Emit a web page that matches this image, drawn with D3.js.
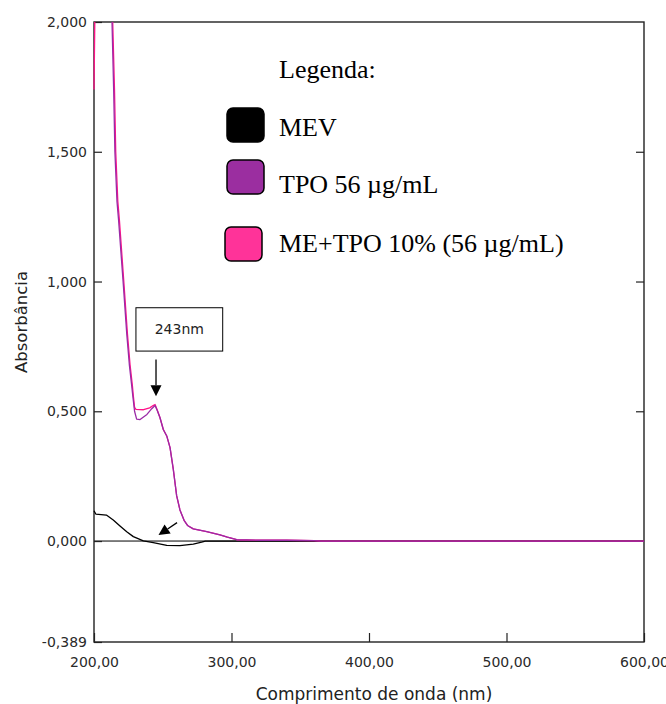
<!DOCTYPE html>
<html>
<head>
<meta charset="utf-8">
<script src="https://cdn.jsdelivr.net/npm/d3@7"></script>
<style>
  body { margin: 0; background: #fff; }
  svg { display: block; }
</style>
</head>
<body>
<svg id="chart" width="666" height="704"></svg>
<script>
// MEV (blank microemulsion)
const mevWl  = [200, 201.3, 209, 214, 218.9, 223.8, 228.6, 235.9, 243.1, 252.9, 262.5, 272.2, 278.3, 281, 600];
const mevAbs = [0.117, 0.104, 0.100, 0.081, 0.058, 0.036, 0.017, 0.001, -0.006, -0.017, -0.018, -0.012, -0.004, 0.000, 0.000];

// ME+TPO 10% (56 ug/mL)
const meWl  = [200, 200.8, 212.8, 213.6, 214.9, 215.8, 217.3, 218.5, 221.8, 224.3, 226.2, 227.9, 228.6, 229.5, 230.5, 236, 240.5, 243, 244.4, 246, 248, 250.4, 252.9, 255.3, 257.7, 260.1, 262.5, 265.5, 268, 272.2, 282, 291.6, 297, 303.8, 320, 340, 360, 365, 600];
const meAbs = [1.74, 2.10, 2.10, 2.00, 1.74, 1.50, 1.31, 1.235, 0.99, 0.80, 0.68, 0.60, 0.56, 0.515, 0.507, 0.506, 0.513, 0.522, 0.526, 0.505, 0.475, 0.430, 0.405, 0.360, 0.275, 0.175, 0.120, 0.080, 0.060, 0.047, 0.036, 0.024, 0.015, 0.005, 0.003, 0.003, 0.002, 0.000, 0.000];

// TPO 56 ug/mL
const tpoWl  = [212.0, 213.1, 214.3, 215.2, 216.7, 217.9, 221.3, 223.8, 225.7, 227.4, 228.2, 229.5, 231, 233.5, 238.5, 242, 244.4, 246, 248, 250.4, 252.9, 255.3, 257.7, 260.1, 262.5, 265.5, 268, 272.2, 282, 291.6, 297, 303.8, 320, 340, 360, 365, 600];
const tpoAbs = [2.20, 2.00, 1.74, 1.50, 1.31, 1.235, 0.99, 0.80, 0.68, 0.60, 0.56, 0.500, 0.470, 0.468, 0.488, 0.510, 0.522, 0.503, 0.475, 0.430, 0.405, 0.360, 0.275, 0.175, 0.120, 0.080, 0.060, 0.047, 0.036, 0.024, 0.015, 0.005, 0.003, 0.003, 0.002, 0.000, 0.000];

const xTicks = [200, 300, 400, 500, 600];
const yTicks = [2, 1.5, 1, 0.5, 0, -0.389];

const legendNames  = ["MEV", "TPO 56 \u00b5g/mL", "ME+TPO 10% (56 \u00b5g/mL)"];
const legendFills  = ["#000000", "#9b2ea0", "#ff3399"];
const lineColors   = {mev: "#000000", tpo: "#9a2aa6", me: "#ff1289"};

const svg = d3.select("#chart");
const mLeft = 94, mRight = 644, mTop = 22, mBottom = 642;

const x = d3.scaleLinear().domain([200, 600]).range([mLeft, mRight]);
const y = d3.scaleLinear().domain([-0.389, 2]).range([mBottom, mTop]);

const fmtY = d => d3.format(".3f")(d).replace(".", ",").replace("\u2212", "-");
const fmtX = d => d3.format(".2f")(d).replace(".", ",");

// clip for data lines
svg.append("defs").append("clipPath").attr("id", "plotclip")
  .append("rect").attr("x", mLeft - 1).attr("y", mTop).attr("width", mRight - mLeft + 1).attr("height", mBottom - mTop);

// zero line
svg.append("line")
  .attr("x1", mLeft).attr("x2", mRight)
  .attr("y1", y(0)).attr("y2", y(0))
  .attr("stroke", "#000").attr("stroke-width", 1);

// axes
const yAxis = d3.axisLeft(y).tickValues(yTicks).tickFormat(fmtY).tickSizeInner(-8).tickSizeOuter(0).tickPadding(7);
const yAxisR = d3.axisRight(y).tickValues([1.5, 1, 0.5]).tickFormat("").tickSizeInner(-8).tickSizeOuter(0);
const xAxis = d3.axisBottom(x).tickValues(xTicks).tickFormat(fmtX).tickSizeInner(-9).tickSizeOuter(0).tickPadding(15);

function styleAxis(g) {
  g.select(".domain").remove();
  g.selectAll(".tick line").attr("stroke", "#222").attr("stroke-width", 1.2);
  g.selectAll(".tick text")
    .attr("fill", "#2a2a2a")
    .style("font-family", "'DejaVu Sans', Verdana, sans-serif")
    .style("font-size", "14px");
}

svg.append("g").attr("transform", `translate(${mLeft},0)`).call(yAxis).call(styleAxis);
svg.append("g").attr("transform", `translate(${mRight},0)`).call(yAxisR).call(styleAxis);
svg.append("g").attr("transform", `translate(0,${mBottom})`).call(xAxis).call(styleAxis);

// frame
svg.append("rect")
  .attr("x", mLeft).attr("y", mTop)
  .attr("width", mRight - mLeft).attr("height", mBottom - mTop)
  .attr("fill", "none").attr("stroke", "#222").attr("stroke-width", 1.4);

// series
const line = d3.line().x(d => x(d[0])).y(d => y(d[1]));
const series = [
  {key: "mev", wl: mevWl, abs: mevAbs},
  {key: "me",  wl: meWl,  abs: meAbs},
  {key: "tpo", wl: tpoWl, abs: tpoAbs}
];
const plot = svg.append("g").attr("clip-path", "url(#plotclip)");
series.forEach(s => {
  plot.append("path")
    .datum(s.wl.map((w, i) => [w, s.abs[i]]))
    .attr("d", line)
    .attr("fill", "none")
    .attr("stroke", lineColors[s.key])
    .attr("stroke-width", 1.3)
    .attr("stroke-linejoin", "round");
});

// axis titles
svg.append("text")
  .attr("x", (mLeft + mRight) / 2 + 5).attr("y", 700)
  .attr("text-anchor", "middle")
  .style("font-family", "'DejaVu Sans', sans-serif").style("font-size", "17px")
  .attr("fill", "#222")
  .text("Comprimento de onda (nm)");

svg.append("text")
  .attr("transform", "translate(27,322) rotate(-90)")
  .attr("text-anchor", "middle")
  .style("font-family", "'DejaVu Sans', sans-serif").style("font-size", "16.5px")
  .attr("fill", "#222")
  .text("Absorb\u00e2ncia");

// annotation: 243nm box + arrows
const boxX0 = x(230.5), boxX1 = x(293.6), boxY0 = y(0.899), boxY1 = y(0.732);
svg.append("rect")
  .attr("x", boxX0).attr("y", boxY0)
  .attr("width", boxX1 - boxX0).attr("height", boxY1 - boxY0)
  .attr("fill", "#fff").attr("stroke", "#000").attr("stroke-width", 1);
svg.append("text")
  .attr("x", (boxX0 + boxX1) / 2).attr("y", (boxY0 + boxY1) / 2 + 5)
  .attr("text-anchor", "middle")
  .style("font-family", "'DejaVu Sans', sans-serif").style("font-size", "14px")
  .attr("fill", "#222")
  .text("243nm");

function arrow(x0, y0, x1, y1) {
  const dx = x1 - x0, dy = y1 - y0, len = Math.hypot(dx, dy);
  const ux = dx / len, uy = dy / len, hl = 11, hw = 5.5;
  const bx = x1 - ux * hl, by = y1 - uy * hl;
  svg.append("line").attr("x1", x0).attr("y1", y0).attr("x2", bx).attr("y2", by)
    .attr("stroke", "#000").attr("stroke-width", 1.3);
  svg.append("path")
    .attr("d", `M${x1},${y1}L${bx - uy * hw},${by + ux * hw}L${bx + uy * hw},${by - ux * hw}Z`)
    .attr("fill", "#000");
}
arrow(x(245.1), y(0.70), x(245.1), y(0.558));
arrow(x(260.4), y(0.071), x(246.9), y(0.023));

// legend
svg.append("text")
  .attr("x", 279).attr("y", 78)
  .style("font-family", "'Liberation Serif', 'Times New Roman', serif").style("font-size", "26px")
  .attr("fill", "#000")
  .text("Legenda:");

const swatchY = [108, 160, 227];
const swatchX = [227, 227, 225];
const textY = [136, 193, 252];
legendNames.forEach((name, i) => {
  svg.append("rect")
    .attr("x", swatchX[i]).attr("y", swatchY[i])
    .attr("width", 37).attr("height", 34).attr("rx", 6)
    .attr("fill", legendFills[i]).attr("stroke", "#000").attr("stroke-width", 1.5);
  svg.append("text")
    .attr("x", 279).attr("y", textY[i])
    .style("font-family", "'Liberation Serif', 'Times New Roman', serif").style("font-size", "26px")
    .attr("fill", "#000")
    .text(name);
});
</script>
</body>
</html>
